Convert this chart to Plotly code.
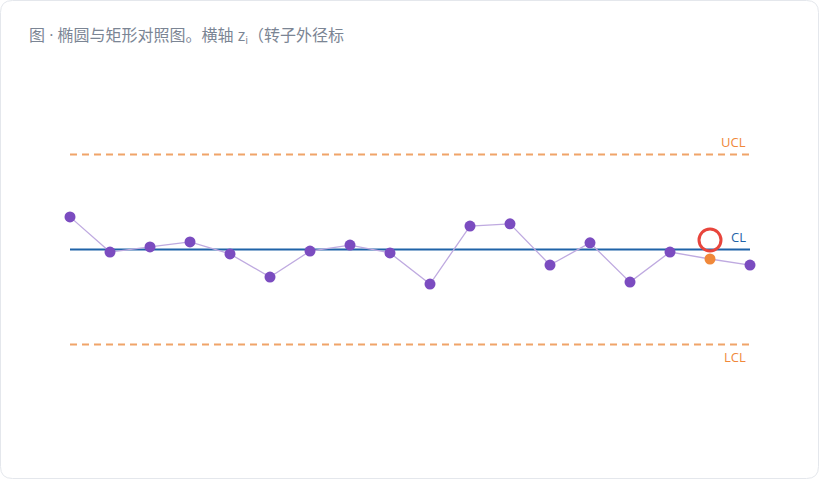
import plotly.graph_objects as go

# ---- data ----
sample_idx = list(range(18))
values = [1.03, -0.08, 0.08, 0.24, -0.14, -0.87, -0.05, 0.14, -0.11, -1.09,
          0.74, 0.81, -0.49, 0.21, -1.03, -0.08, -0.30, -0.49]
highlight_idx = 16
marker_value = 0.30
cl_value = 0.0
ucl_value = 3.0
lcl_value = -3.0
title_text = "图 · 椭圆与矩形对照图。横轴 z<sub>i</sub>（转子外径标"

W, H = 820, 480
L, R, T, B = 50, 50, 60, 60
PW, PH = W - L - R, H - T - B

def px(xp):
    return (xp - L) / PW

def py(yp):
    return (H - B - yp) / PH

purple = "#7b4cc0"
orange = "#f0883a"
dash_orange = "#f0a469"
blue = "#1f63a8"

colors = [orange if i == highlight_idx else purple for i in sample_idx]

fig = go.Figure()
fig.add_trace(go.Scatter(
    x=sample_idx, y=values, mode="lines",
    line=dict(color="#bfaae0", width=1.3),
    hoverinfo="skip", cliponaxis=False, showlegend=False))
fig.add_trace(go.Scatter(
    x=sample_idx, y=values, mode="markers",
    marker=dict(color=colors, size=11, line=dict(width=0)),
    cliponaxis=False, showlegend=False))
fig.add_trace(go.Scatter(
    x=[highlight_idx], y=[marker_value], mode="markers",
    marker=dict(symbol="circle-open", size=22, color="#e8453c", line=dict(width=3)),
    cliponaxis=False, showlegend=False))

x0, x1 = sample_idx[0], sample_idx[-1]
shapes = []
# card
r = 12
a, b, c, d = 0.5, 818.5, 0.5, 478.5
path = (f"M {px(a+r)},{py(c)} L {px(b-r)},{py(c)} Q {px(b)},{py(c)} {px(b)},{py(c+r)} "
        f"L {px(b)},{py(d-r)} Q {px(b)},{py(d)} {px(b-r)},{py(d)} "
        f"L {px(a+r)},{py(d)} Q {px(a)},{py(d)} {px(a)},{py(d-r)} "
        f"L {px(a)},{py(c+r)} Q {px(a)},{py(c)} {px(a+r)},{py(c)} Z")
shapes.append(dict(type="path", xref="paper", yref="paper", path=path,
                   line=dict(color="#e4e7ec", width=1), fillcolor="white", layer="below"))
shapes.append(dict(type="line", xref="x", yref="y", x0=x0, x1=x1, y0=ucl_value, y1=ucl_value,
                   line=dict(color=dash_orange, width=1.8, dash="7px,5px"), layer="below"))
shapes.append(dict(type="line", xref="x", yref="y", x0=x0, x1=x1, y0=lcl_value, y1=lcl_value,
                   line=dict(color=dash_orange, width=1.8, dash="7px,5px"), layer="below"))
shapes.append(dict(type="line", xref="x", yref="y", x0=x0, x1=x1, y0=cl_value, y1=cl_value,
                   line=dict(color=blue, width=2.2), layer="below"))

font = "Open Sans, Noto Sans CJK SC, sans-serif"
annotations = [
    dict(text=title_text, xref="paper", yref="paper", x=px(27), y=py(35),
         xanchor="left", yanchor="middle", showarrow=False,
         font=dict(size=16, color="#7b8594", family=font)),
    dict(text="UCL", x=x1, y=ucl_value, xref="x", yref="y", xanchor="right", yanchor="bottom",
         xshift=-2, yshift=2, showarrow=False, font=dict(size=13, color=orange, family=font)),
    dict(text="CL", x=x1, y=cl_value, xref="x", yref="y", xanchor="right", yanchor="bottom",
         xshift=-2, yshift=2, showarrow=False, font=dict(size=13, color=blue, family=font)),
    dict(text="LCL", x=x1, y=lcl_value, xref="x", yref="y", xanchor="right", yanchor="top",
         xshift=-2, yshift=-1, showarrow=False, font=dict(size=13, color=orange, family=font)),
]

fig.update_layout(
    width=W, height=H, margin=dict(l=L, r=R, t=T, b=B),
    paper_bgcolor="white", plot_bgcolor="rgba(0,0,0,0)",
    xaxis=dict(range=[-0.5, 17.5], visible=False, fixedrange=True),
    yaxis=dict(range=[-5.384, 5.984], visible=False, fixedrange=True),
    shapes=shapes, annotations=annotations, showlegend=False,
)
fig.write_html("out.html", config={"displayModeBar": False},
               post_script="document.body.style.margin='0';document.body.style.overflow='hidden';")
